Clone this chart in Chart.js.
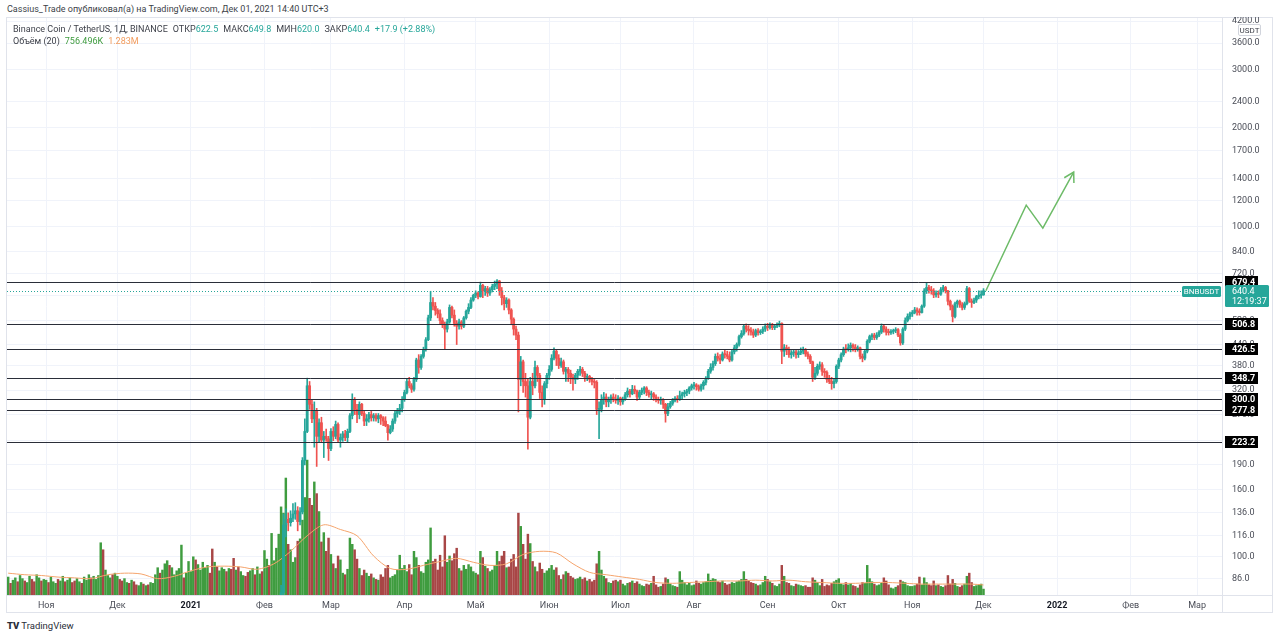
<!DOCTYPE html>
<html lang="ru">
<head>
<meta charset="utf-8">
<title>BNBUSDT 1Д</title>
<script src="https://cdn.jsdelivr.net/npm/chart.js@4.4.1/dist/chart.umd.min.js"></script>
<style>
  html, body { margin: 0; padding: 0; background: #fff; }
  body { width: 1280px; height: 639px; position: relative; overflow: hidden; font-family: Roboto, 'Noto Sans', sans-serif; color: #3c3f48; }
  #author { position: absolute; left: 7px; top: 4px; font-size: 9px; white-space: nowrap; }
  #frame { position: absolute; left: 6px; top: 17px; width: 1267px; height: 596px; border: 1px solid #e0e3eb; box-sizing: border-box; }
  #wrap { position: absolute; left: 6px; top: 17px; width: 1267px; height: 596px; }
  #legend { position: absolute; left: 13px; top: 23px; font-size: 9px; line-height: 12px; white-space: nowrap; }
  #legend .g { margin-left: 5px; }
  .up { color: #26a69a; }
  .vg { color: #3f9c3f; margin-left: 5px; }
  .vo { color: #f29b5c; margin-left: 5px; }
  #unit { position: absolute; left: 1238px; top: 24px; width: 23px; height: 12px; border: 1px solid #d1d4dc; border-radius: 2px; background: #fff; font-size: 8px; line-height: 11px; text-align: center; box-sizing: border-box; }
  #brand { position: absolute; left: 7px; top: 620px; font-size: 9.5px; white-space: nowrap; color: #2a2e39; }
  #brand b { font-weight: 900; margin-right: 2px; }
</style>
</head>
<body>
<div id="author">Cassius_Trade опубликовал(а) на TradingView.com, Дек 01, 2021 14:40 UTC+3</div>
<div id="frame"></div>
<div id="wrap"><canvas id="chart" width="1267" height="596"></canvas></div>
<div id="legend">
  <div>Binance Coin / TetherUS, 1Д, BINANCE<span class="g">ОТКР<span class="up">622.5</span></span><span class="g">МАКС<span class="up">649.8</span></span><span class="g">МИН<span class="up">620.0</span></span><span class="g">ЗАКР<span class="up">640.4</span></span><span class="g up">+17.9 (+2.88%)</span></div>
  <div>Объём (20)<span class="vg">756.496K</span><span class="vo">1.283M</span></div>
</div>
<div id="unit">USDT</div>
<div id="brand"><b>TV</b>TradingView</div>
<script>
const firstDay = '2020-10-16';
const lastDay = '2022-03-11';
const candleStart = '2021-02-07';

const monthStarts = ['2020-11-01', '2020-12-01', '2021-01-01', '2021-02-01', '2021-03-01', '2021-04-01', '2021-05-01', '2021-06-01',
    '2021-07-01', '2021-08-01', '2021-09-01', '2021-10-01', '2021-11-01', '2021-12-01', '2022-01-01', '2022-02-01', '2022-03-01'];
const monthLabels = ['Ноя', 'Дек', '2021', 'Фев', 'Мар', 'Апр', 'Май', 'Июн', 'Июл', 'Авг', 'Сен', 'Окт', 'Ноя', 'Дек', '2022', 'Фев', 'Мар'];

const priceTicks = [86, 100, 116, 136, 160, 190, 225, 270, 320, 380, 440, 520, 620, 720, 840, 1000, 1200, 1400, 1700, 2000, 2400, 3000, 3600, 4200];
const levels = [679.4, 506.8, 426.5, 348.7, 300.0, 277.8, 223.2];
const lastPrice = 640.4;
const lastTime = '12:19:37';
const symbol = 'BNBUSDT';

// daily candles from 2021-02-07 to 2021-12-01 (earlier days sit below the visible range)
const opens = [
    68, 70, 78, 125, 130, 127, 131, 135, 138, 128, 137, 196, 240, 330, 290, 262, 278, 232, 255, 226, 232, 228,
    213, 240, 232, 252, 226, 230, 236, 230, 240, 268, 300, 280, 270, 290, 272, 258, 262, 270, 264, 268, 262, 268, 264, 258, 250, 238, 244, 258, 272, 276, 282,
    300, 315, 340, 330, 322, 345, 395, 375, 405, 425, 455, 530, 590, 575, 558, 545, 520, 505, 490, 515, 570, 540, 510, 500, 515, 500, 530, 555, 570, 600,
    620, 630, 615, 665, 640, 650, 630, 645, 660, 670, 685, 640, 610, 585, 600, 560, 525, 490, 470, 345, 390, 340, 330, 265, 340, 330, 375, 355, 315, 300, 335,
    355, 370, 400, 420, 400, 380, 390, 365, 370, 360, 350, 345, 355, 365, 370, 360, 350, 352, 345, 340, 338, 280, 280, 300, 305, 295, 300, 305, 300, 298,
    303, 295, 300, 310, 318, 312, 322, 318, 305, 315, 320, 325, 315, 310, 312, 305, 300, 298, 300, 290, 272, 285, 292, 298, 302, 300, 308, 312, 315, 318, 325,
    330, 332, 328, 322, 330, 338, 348, 365, 375, 385, 405, 400, 395, 412, 410, 405, 395, 418, 430, 440, 465, 475, 500, 490, 485, 480, 470, 485, 478, 482, 490,
    500, 495, 505, 495, 500, 505, 510, 420, 430, 425, 410, 415, 418, 410, 415, 420, 425, 412, 405, 390, 350, 360, 378, 382, 365, 362, 345, 340, 335, 340,
    378, 395, 410, 426, 425, 430, 438, 432, 425, 430, 405, 400, 420, 450, 465, 470, 462, 470, 480, 500, 490, 480, 478, 482, 485, 488, 470, 445, 490, 520, 535,
    545, 550, 560, 555, 550, 575, 640, 655, 645, 640, 622, 630, 625, 645, 655, 640, 595, 575, 535, 585, 595, 580, 570, 585, 650, 595, 590, 600, 615, 620,
    622.5
];
const highs = [
    73, 82, 135, 140, 136, 138, 145, 146, 142, 141, 200, 262, 348, 340, 300, 295, 282, 262, 265, 240, 244, 232,
    245, 248, 258, 255, 236, 240, 242, 244, 272, 312, 304, 290, 295, 292, 276, 270, 274, 276, 272, 272, 272, 270, 266, 266, 252, 250, 262, 276, 282, 290, 306,
    320, 345, 350, 335, 350, 400, 410, 410, 432, 462, 540, 638, 610, 590, 565, 560, 530, 515, 525, 580, 575, 560, 520, 525, 520, 535, 560, 585, 610, 625,
    640, 635, 680, 670, 660, 660, 655, 670, 685, 692, 688, 655, 620, 610, 605, 565, 530, 500, 480, 405, 395, 360, 345, 350, 360, 392, 380, 360, 330, 340, 360,
    380, 410, 430, 425, 410, 400, 395, 375, 375, 368, 358, 360, 370, 378, 375, 365, 358, 355, 350, 345, 342, 295, 310, 315, 312, 305, 310, 312, 310, 308,
    305, 305, 315, 325, 322, 331, 330, 320, 320, 325, 328, 328, 320, 318, 315, 310, 305, 305, 302, 292, 292, 296, 302, 306, 308, 318, 316, 320, 322, 328, 334,
    338, 335, 332, 334, 342, 352, 370, 385, 392, 412, 415, 410, 418, 425, 420, 418, 425, 438, 445, 470, 485, 505, 508, 502, 495, 490, 490, 492, 488, 498, 508,
    510, 512, 510, 506, 512, 518, 512, 440, 438, 432, 422, 425, 425, 422, 430, 432, 428, 418, 410, 392, 375, 384, 390, 388, 372, 366, 355, 350, 345, 382,
    400, 415, 432, 440, 442, 445, 442, 440, 436, 432, 412, 425, 455, 470, 475, 476, 478, 485, 508, 505, 498, 490, 488, 490, 495, 492, 475, 495, 530, 545, 552,
    558, 570, 568, 565, 580, 650, 677, 665, 660, 650, 640, 640, 655, 665, 660, 642, 600, 580, 592, 600, 600, 590, 592, 660, 655, 605, 608, 620, 640, 640,
    649.8
];
const lows = [
    64, 68, 76, 115, 120, 124, 128, 130, 120, 125, 135, 190, 238, 280, 255, 215, 188, 222, 222, 200, 224, 196,
    210, 225, 228, 222, 215, 224, 225, 222, 238, 262, 270, 255, 262, 268, 250, 250, 256, 258, 258, 258, 255, 252, 250, 248, 226, 236, 240, 254, 265, 270, 275,
    296, 312, 325, 315, 318, 340, 360, 370, 400, 420, 452, 520, 560, 540, 530, 505, 495, 425, 480, 510, 530, 500, 440, 490, 490, 495, 525, 545, 565, 595,
    610, 605, 612, 610, 620, 615, 620, 635, 645, 650, 620, 580, 560, 570, 545, 505, 470, 455, 275, 330, 315, 305, 212, 262, 310, 325, 340, 302, 285, 290, 325,
    345, 365, 395, 380, 372, 375, 358, 340, 340, 335, 320, 335, 345, 355, 352, 340, 342, 338, 332, 325, 270, 228, 275, 290, 285, 285, 292, 295, 292, 290,
    288, 290, 298, 305, 305, 310, 312, 298, 300, 310, 312, 308, 305, 300, 298, 295, 292, 290, 282, 256, 268, 282, 288, 295, 294, 298, 300, 305, 308, 312, 320,
    322, 320, 318, 318, 322, 332, 345, 360, 368, 380, 392, 385, 392, 400, 398, 390, 392, 412, 420, 435, 460, 470, 480, 470, 470, 462, 465, 470, 472, 475, 482,
    485, 490, 488, 488, 495, 498, 385, 405, 410, 402, 400, 405, 400, 402, 410, 412, 405, 398, 385, 340, 345, 355, 370, 355, 350, 338, 335, 322, 325, 336,
    372, 390, 405, 415, 420, 418, 420, 418, 420, 398, 390, 395, 415, 445, 455, 455, 456, 465, 475, 480, 470, 470, 472, 474, 478, 465, 438, 440, 485, 515, 525,
    535, 545, 540, 540, 548, 570, 628, 630, 625, 610, 612, 610, 620, 635, 630, 580, 560, 515, 530, 570, 570, 560, 562, 580, 590, 570, 585, 590, 605, 608,
    620.0
];
const closes = [
    70, 78, 125, 130, 127, 131, 135, 138, 128, 137, 196, 240, 330, 290, 262, 278, 232, 255, 226, 232, 228, 213,
    240, 232, 252, 226, 230, 236, 230, 240, 268, 300, 280, 270, 290, 272, 258, 262, 270, 264, 268, 262, 268, 264, 258, 250, 238, 244, 258, 272, 276, 282, 300,
    315, 340, 330, 322, 345, 395, 375, 405, 425, 455, 530, 590, 575, 558, 545, 520, 505, 490, 515, 570, 540, 510, 500, 515, 500, 530, 555, 570, 600, 620,
    630, 615, 665, 640, 650, 630, 645, 660, 670, 685, 640, 610, 585, 600, 560, 525, 490, 470, 345, 390, 340, 330, 265, 340, 330, 375, 355, 315, 300, 335, 355,
    370, 400, 420, 400, 380, 390, 365, 370, 360, 350, 345, 355, 365, 370, 360, 350, 352, 345, 340, 338, 280, 280, 300, 305, 295, 300, 305, 300, 298, 303,
    295, 300, 310, 318, 312, 322, 318, 305, 315, 320, 325, 315, 310, 312, 305, 300, 298, 300, 290, 272, 285, 292, 298, 302, 300, 308, 312, 315, 318, 325, 330,
    332, 328, 322, 330, 338, 348, 365, 375, 385, 405, 400, 395, 412, 410, 405, 395, 418, 430, 440, 465, 475, 500, 490, 485, 480, 470, 485, 478, 482, 490, 500,
    495, 505, 495, 500, 505, 510, 420, 430, 425, 410, 415, 418, 410, 415, 420, 425, 412, 405, 390, 350, 360, 378, 382, 365, 362, 345, 340, 335, 340, 378,
    395, 410, 426, 425, 430, 438, 432, 425, 430, 405, 400, 420, 450, 465, 470, 462, 470, 480, 500, 490, 480, 478, 482, 485, 488, 470, 445, 490, 520, 535, 545,
    550, 560, 555, 550, 575, 640, 655, 645, 640, 622, 630, 625, 645, 655, 640, 595, 575, 535, 585, 595, 580, 570, 585, 650, 595, 590, 600, 615, 620, 622.5,
    640.4
];

// daily volume in millions BNB, 2020-10-16 .. 2021-12-01
const volumes = [
    2.3, 1.5, 1.9, 2.2, 1.7, 2.5, 2.1, 1.8, 1.6, 2.4, 2.0, 1.7, 2.6, 2.2, 1.8, 2.0,
    1.9, 1.6, 2.3, 1.7, 1.5, 2.0, 1.8, 2.4, 1.7, 1.9, 2.2, 1.6, 1.8, 2.1, 1.7, 1.5, 2.3, 1.9, 2.6, 2.2, 2.4, 2.0, 2.5, 6.7, 5.8, 3.2, 2.5, 2.2, 2.6, 2.8,
    2.4, 2.0, 1.8, 2.1, 1.6, 1.5, 1.9, 1.7, 1.3, 1.2, 1.6, 1.4, 1.2, 1.3, 1.6, 1.5, 2.6, 3.5, 2.8, 3.2, 4.0, 4.4, 3.8, 3.5, 2.6, 3.1, 3.4, 6.4, 2.2, 2.8, 4.3,
    3.0, 4.9, 4.5, 3.9, 3.2, 4.2, 3.5, 3.8, 2.8, 5.9, 4.2, 3.6, 3.1, 3.5, 3.3, 3.0, 3.4, 3.3, 4.7, 3.2, 3.6, 3.0, 2.5, 2.4, 2.9, 3.1, 3.4, 2.6, 3.6, 2.7, 3.0,
    5.7, 4.6, 3.8, 7.9, 4.4, 6.0, 7.8, 11.3, 10.5, 15.0, 6.5, 5.8, 4.2, 4.8, 6.9, 7.2, 9.6, 12.5, 17.3, 12.4, 11.5, 14.5, 13.0, 10.7, 6.8, 8.0, 5.6, 7.3,
    5.2, 4.0, 3.4, 5.0, 4.5, 2.8, 2.6, 3.3, 7.3, 6.5, 5.8, 4.6, 3.4, 2.5, 3.2, 2.8, 2.4, 2.7, 2.2, 2.0, 1.9, 2.6, 2.3, 3.4, 3.8, 2.2, 2.4, 2.6, 3.2, 5.1, 3.4,
    3.8, 3.0, 3.9, 2.6, 5.6, 4.8, 3.8, 3.0, 2.8, 4.2, 4.5, 8.6, 4.3, 4.6, 3.2, 5.1, 3.6, 7.6, 4.2, 5.0, 4.4, 5.3, 6.0, 3.4, 3.1, 3.8, 3.3, 3.9, 3.6, 3.0,
    2.8, 2.6, 5.6, 4.8, 3.7, 3.4, 3.0, 3.2, 3.8, 5.6, 4.3, 5.0, 5.6, 3.5, 3.6, 4.6, 5.2, 3.6, 10.5, 8.8, 6.5, 4.6, 7.8, 6.6, 4.3, 3.6, 3.0, 4.1, 3.3, 2.8, 3.1,
    3.4, 3.8, 3.2, 3.5, 2.5, 2.0, 2.6, 3.0, 2.8, 2.4, 2.2, 2.0, 2.1, 2.3, 2.0, 2.2, 1.8, 2.0, 1.7, 1.9, 4.0, 5.6, 3.2, 2.4, 2.1, 1.6, 1.5, 1.8, 1.9, 1.7,
    1.9, 1.4, 1.2, 1.5, 1.6, 1.8, 1.5, 1.7, 1.4, 1.2, 1.1, 1.4, 1.3, 1.5, 2.4, 1.3, 1.0, 1.1, 1.4, 2.2, 2.0, 1.4, 1.2, 1.1, 1.0, 3.0, 1.9, 1.6, 1.3, 1.5, 1.2,
    1.3, 1.8, 1.5, 1.4, 1.6, 1.7, 2.7, 1.9, 2.1, 2.0, 1.7, 1.6, 1.8, 1.5, 1.3, 1.4, 1.6, 1.5, 1.7, 1.8, 2.0, 3.0, 2.0, 1.8, 1.6, 1.5, 1.4, 1.2, 1.3, 1.6, 2.4,
    2.0, 1.7, 1.5, 1.2, 1.1, 1.4, 3.8, 2.4, 1.6, 1.5, 1.2, 1.1, 1.4, 1.3, 1.2, 1.1, 1.2, 1.0, 1.0, 2.2, 1.9, 1.6, 1.2, 2.0, 1.1, 1.3, 1.2, 1.5, 1.7, 1.9,
    2.1, 1.4, 1.3, 1.6, 1.3, 1.5, 1.2, 1.1, 0.9, 1.3, 1.6, 1.5, 3.8, 2.1, 1.7, 1.4, 1.2, 1.3, 1.5, 2.2, 1.8, 1.3, 0.9, 0.8, 1.0, 1.2, 1.9, 1.7, 1.6, 1.2, 1.1,
    1.1, 1.2, 1.4, 2.3, 1.3, 2.2, 1.6, 1.3, 1.2, 1.8, 1.2, 1.3, 1.1, 1.0, 1.2, 2.5, 1.4, 2.0, 1.5, 1.1, 1.0, 1.2, 1.4, 2.4, 2.8, 1.6, 1.1, 1.2, 1.3, 1.4,
    0.756
];
// bar colour of the volume for days before candleStart (1 = rising day)
const earlyVolumeUp = [
    1, 0, 1, 1, 0, 1, 1, 0, 1, 1, 0, 0, 1, 1, 0, 1,
    1, 0, 1, 1, 1, 0, 1, 1, 0, 1, 1, 0, 0, 1, 1, 0, 1, 1, 1, 0, 1, 1, 1, 1, 0, 1, 1, 1, 0, 1,
    1, 0, 0, 1, 1, 0, 1, 0, 0, 1, 1, 0, 1, 0, 1, 1, 1, 1, 0, 1, 1, 1, 0, 1, 1, 1, 1, 1, 0, 1, 1,
    1, 1, 0, 1, 1, 1, 1, 1, 0, 0, 1, 0, 1, 1, 1, 0, 1, 0, 0, 1, 0, 1, 1, 0, 0, 1, 1, 0, 1, 1, 0,
    1, 1, 0, 1, 1, 1
];

// 20-day volume average, read weekly
const maDays = ['2020-10-16', '2020-10-23', '2020-10-30', '2020-11-06', '2020-11-13', '2020-11-20', '2020-11-27', '2020-12-04', '2020-12-11',
    '2020-12-18', '2020-12-25', '2021-01-01', '2021-01-08', '2021-01-15', '2021-01-22', '2021-01-29', '2021-02-05', '2021-02-12', '2021-02-19',
    '2021-02-26', '2021-03-05', '2021-03-12', '2021-03-19', '2021-03-26', '2021-04-02', '2021-04-09', '2021-04-16', '2021-04-23', '2021-04-30',
    '2021-05-07', '2021-05-14', '2021-05-21', '2021-05-28', '2021-06-04', '2021-06-11', '2021-06-18', '2021-06-25', '2021-07-02', '2021-07-09',
    '2021-07-16', '2021-07-23', '2021-07-30', '2021-08-06', '2021-08-13', '2021-08-20', '2021-08-27', '2021-09-03', '2021-09-10', '2021-09-17',
    '2021-09-24', '2021-10-01', '2021-10-08', '2021-10-15', '2021-10-22', '2021-10-29', '2021-11-05', '2021-11-12', '2021-11-19', '2021-11-26',
    '2021-12-01'];
const maVolume = [2.8, 2.6, 2.5, 2.3, 2.2, 2.1, 2.6, 2.8, 2.7,
    2.1, 2.4, 3.1, 3.6, 3.7, 3.6, 3.3, 4.0, 5.6, 7.6,
    9.0, 8.4, 7.6, 5.0, 3.4, 3.3, 3.8, 4.3, 4.7, 4.2,
    3.8, 4.0, 5.2, 5.6, 5.4, 4.0, 2.9, 2.6, 2.3, 2.0,
    1.6, 1.5, 1.6, 1.7, 1.8, 1.8, 1.9, 1.8, 1.9, 1.7,
    1.6, 1.5, 1.5, 1.6, 1.6, 1.5, 1.4, 1.4, 1.4, 1.4,
    1.283];

// hand-drawn forecast arrow
const arrowDays = ['2021-12-02', '2021-12-19', '2021-12-26', '2022-01-08'];
const arrowPrices = [640.4, 1163, 991, 1465];

const UP = '#26a69a';
const DOWN = '#ef5350';
const VOL_UP = '#3f9c3f';
const VOL_DOWN = '#a84646';
const GRID = '#f0f3fa';
const TEXT = '#4a4d57';

function buildDays(from, to) {
    const out = [];
    const d = new Date(from + 'T00:00:00Z');
    const end = new Date(to + 'T00:00:00Z');
    while (d <= end) {
        out.push(d.toISOString().slice(0, 10));
        d.setUTCDate(d.getUTCDate() + 1);
    }
    return out;
}

const days = buildDays(firstDay, lastDay);
const candleOffset = days.indexOf(candleStart);

function candleAt(i) {
    const j = i - candleOffset;
    return (j >= 0 && j < closes.length) ? j : -1;
}

function isUpDay(i) {
    const j = candleAt(i);
    if (j >= 0) return closes[j] >= opens[j];
    return earlyVolumeUp[i] === 1;
}

const wickData = days.map((d, i) => { const j = candleAt(i); return j >= 0 ? [lows[j], highs[j]] : null; });
const bodyData = days.map((d, i) => { const j = candleAt(i); return j >= 0 ? [opens[j], closes[j]] : null; });
const candleColors = days.map((d, i) => { const j = candleAt(i); return j >= 0 && closes[j] < opens[j] ? DOWN : UP; });
const volumeData = days.map((d, i) => i < volumes.length ? volumes[i] : null);
const volumeColors = days.map((d, i) => isUpDay(i) ? VOL_UP : VOL_DOWN);

function roundRect(ctx, x, y, w, h, r) {
    ctx.beginPath();
    ctx.moveTo(x + r, y);
    ctx.arcTo(x + w, y, x + w, y + h, r);
    ctx.arcTo(x + w, y + h, x, y + h, r);
    ctx.arcTo(x, y + h, x, y, r);
    ctx.arcTo(x, y, x + w, y, r);
    ctx.closePath();
}

const overlay = {
    id: 'overlay',
    afterDatasetsDraw(chart) {
        const { ctx, chartArea: a, scales: { x, y } } = chart;
        ctx.save();
        ctx.beginPath();
        ctx.rect(a.left, a.top, a.right - a.left, a.bottom - a.top);
        ctx.clip();

        ctx.strokeStyle = '#2a2e39';
        ctx.lineWidth = 1;
        levels.forEach(v => {
            const py = Math.round(y.getPixelForValue(v)) + 0.5;
            ctx.beginPath();
            ctx.moveTo(a.left, py);
            ctx.lineTo(a.right, py);
            ctx.stroke();
        });

        const lp = Math.round(y.getPixelForValue(lastPrice)) + 0.5;
        ctx.strokeStyle = UP;
        ctx.setLineDash([1, 2]);
        ctx.beginPath();
        ctx.moveTo(a.left, lp);
        ctx.lineTo(a.right, lp);
        ctx.stroke();
        ctx.setLineDash([]);

        // arrow head on the forecast line
        const n = arrowDays.length;
        const tx = x.getPixelForValue(days.indexOf(arrowDays[n - 1]));
        const ty = y.getPixelForValue(arrowPrices[n - 1]);
        const px = x.getPixelForValue(days.indexOf(arrowDays[n - 2]));
        const py = y.getPixelForValue(arrowPrices[n - 2]);
        const ang = Math.atan2(ty - py, tx - px);
        ctx.strokeStyle = '#6dbb68';
        ctx.lineWidth = 1.5;
        ctx.beginPath();
        ctx.moveTo(tx + 11 * Math.cos(ang + Math.PI - Math.PI / 6), ty + 11 * Math.sin(ang + Math.PI - Math.PI / 6));
        ctx.lineTo(tx, ty);
        ctx.lineTo(tx + 11 * Math.cos(ang + Math.PI + Math.PI / 6), ty + 11 * Math.sin(ang + Math.PI + Math.PI / 6));
        ctx.stroke();
        ctx.restore();
    },
    afterDraw(chart) {
        const { ctx, chartArea: a, scales: { y }, width, height } = chart;
        ctx.save();
        ctx.strokeStyle = '#e0e3eb';
        ctx.lineWidth = 1;
        ctx.beginPath();
        ctx.moveTo(a.right + 0.5, 0);
        ctx.lineTo(a.right + 0.5, height);
        ctx.moveTo(0, a.bottom + 0.5);
        ctx.lineTo(width, a.bottom + 0.5);
        ctx.stroke();

        ctx.textBaseline = 'middle';
        ctx.textAlign = 'left';
        levels.forEach(v => {
            const py = Math.round(y.getPixelForValue(v));
            ctx.fillStyle = '#000';
            ctx.fillRect(a.right + 3, py - 6, 33, 12);
            ctx.fillStyle = '#fff';
            ctx.font = 'bold 9px Roboto, sans-serif';
            ctx.fillText(v.toFixed(1), a.right + 10, py + 0.5);
        });

        const lp = Math.round(y.getPixelForValue(lastPrice));
        ctx.fillStyle = UP;
        roundRect(ctx, a.right + 3, lp - 6, 44, 22, 1.5);
        ctx.fill();
        roundRect(ctx, a.right - 40, lp - 5, 39, 11, 1.5);
        ctx.fill();
        ctx.fillStyle = '#fff';
        ctx.font = '9px Roboto, sans-serif';
        ctx.fillText(lastPrice.toFixed(1), a.right + 10, lp + 0.5);
        ctx.fillText(lastTime, a.right + 10, lp + 10.5);
        ctx.font = '8px Roboto, sans-serif';
        ctx.textAlign = 'center';
        ctx.fillText(symbol, a.right - 20.5, lp + 0.5);
        ctx.restore();
    }
};

const ctx = document.getElementById('chart').getContext('2d');
new Chart(ctx, {
    type: 'bar',
    data: {
        labels: days,
        datasets: [
            {
                type: 'line',
                data: arrowDays.map((d, k) => ({ x: d, y: arrowPrices[k] })),
                yAxisID: 'y',
                borderColor: '#6dbb68',
                borderWidth: 1.5,
                pointRadius: 0,
                tension: 0,
                order: 0
            },
            {
                data: bodyData,
                yAxisID: 'y',
                backgroundColor: candleColors,
                barThickness: 2.2,
                minBarLength: 1,
                grouped: false,
                order: 1
            },
            {
                data: wickData,
                yAxisID: 'y',
                backgroundColor: candleColors,
                barThickness: 1,
                grouped: false,
                order: 2
            },
            {
                type: 'line',
                data: maDays.map((d, k) => ({ x: d, y: maVolume[k] })),
                yAxisID: 'v',
                borderColor: '#f5a46c',
                borderWidth: 1,
                pointRadius: 0,
                tension: 0.3,
                order: 3
            },
            {
                data: volumeData,
                yAxisID: 'v',
                backgroundColor: volumeColors,
                barThickness: 1.8,
                grouped: false,
                order: 4
            }
        ]
    },
    options: {
        responsive: false,
        animation: false,
        events: [],
        layout: { padding: { left: 1, top: 1, right: 0, bottom: 0 } },
        plugins: { legend: { display: false }, tooltip: { enabled: false } },
        scales: {
            x: {
                type: 'category',
                offset: true,
                border: { display: false },
                grid: { offset: false, color: GRID, drawTicks: false },
                ticks: {
                    autoSkip: false,
                    maxRotation: 0,
                    padding: 5,
                    color: ctx => (ctx.tick && /^\d{4}$/.test(ctx.tick.label)) ? '#131722' : TEXT,
                    font: ctx => ({ family: 'Roboto, sans-serif', size: 9, weight: (ctx.tick && /^\d{4}$/.test(ctx.tick.label)) ? 'bold' : 'normal' }),
                    callback: function (value) {
                        const k = monthStarts.indexOf(this.getLabelForValue(value));
                        return k >= 0 ? monthLabels[k] : '';
                    }
                },
                afterBuildTicks: scale => {
                    scale.ticks = scale.ticks.filter(t => monthStarts.includes(days[t.value]));
                },
                afterFit: scale => {
                    scale.height = 18;
                    scale.paddingLeft = 0;
                    scale.paddingRight = 0;
                }
            },
            y: {
                type: 'logarithmic',
                position: 'right',
                min: 76.7,
                max: 4290,
                bounds: 'data',
                border: { display: false },
                grid: { color: GRID, drawTicks: false },
                ticks: {
                    autoSkip: false,
                    padding: 10,
                    color: TEXT,
                    font: { family: 'Roboto, sans-serif', size: 9 },
                    callback: v => Number(v).toFixed(1)
                },
                afterBuildTicks: scale => {
                    scale.ticks = priceTicks.map(v => ({ value: v }));
                },
                afterFit: scale => {
                    scale.width = 51;
                    scale.paddingTop = 0;
                    scale.paddingBottom = 0;
                }
            },
            v: {
                display: false,
                min: 0,
                max: 74
            }
        }
    },
    plugins: [overlay]
});
</script>
</body>
</html>
